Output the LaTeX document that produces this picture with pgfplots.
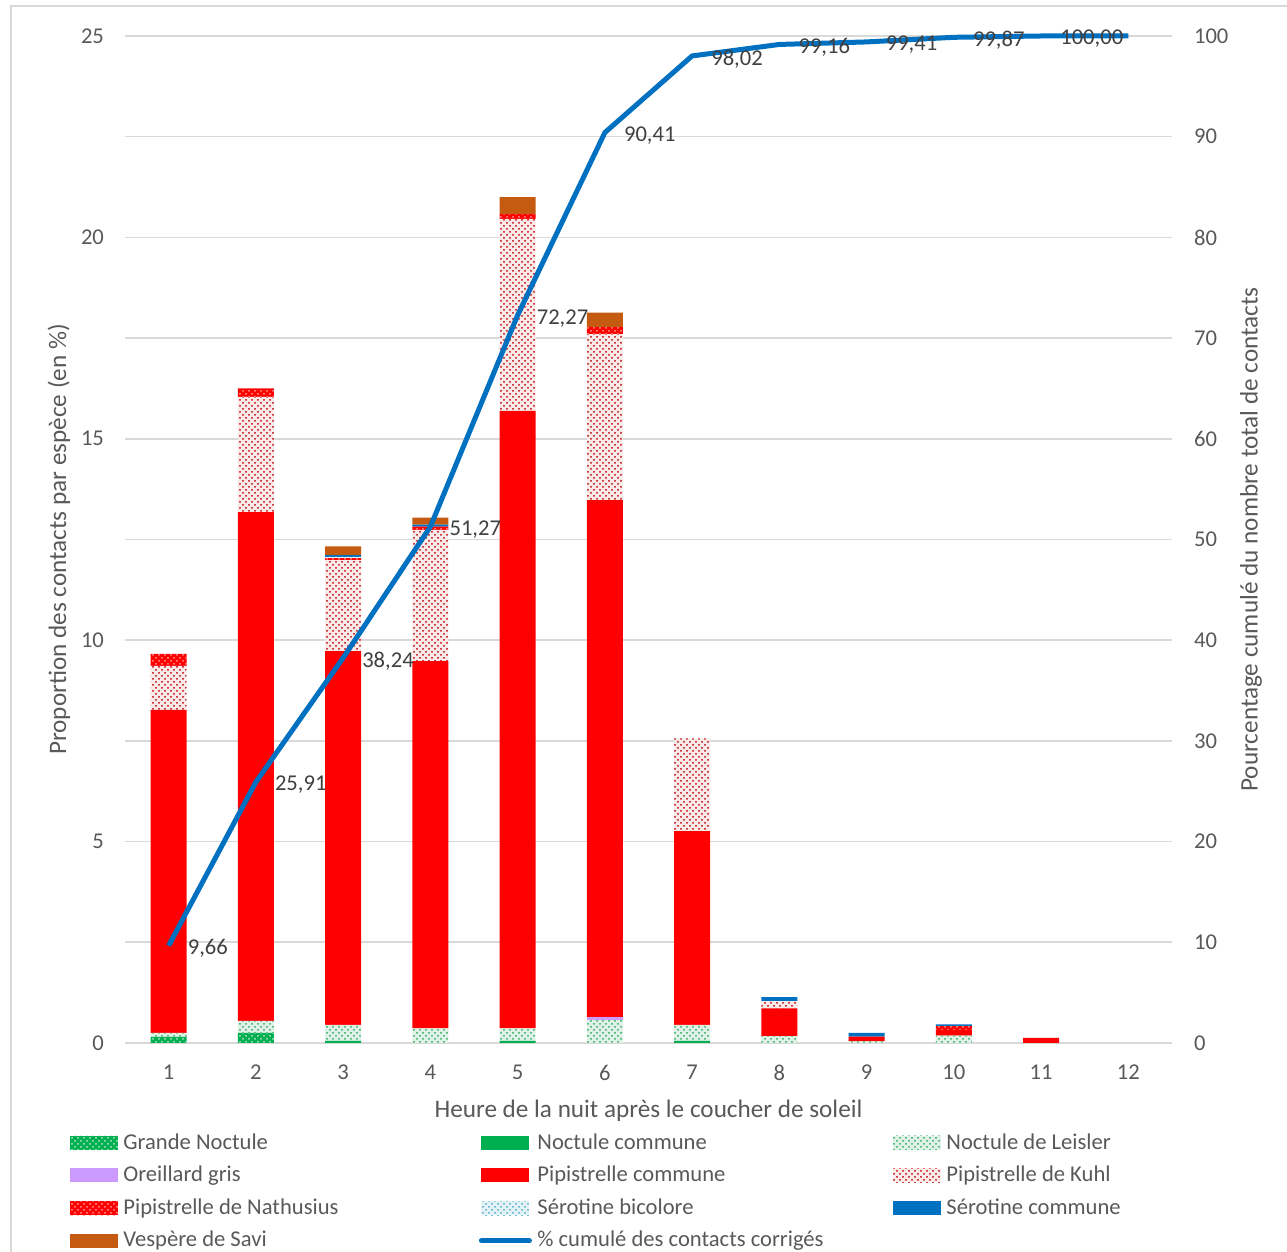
\documentclass[border=0pt]{standalone}
\usepackage{fontspec}
\setmainfont{Carlito}
\usepackage{pgfplots}
\usepackage{pgfplotstable}
\pgfplotsset{compat=1.18}
\usetikzlibrary{patterns}
\definecolor{cGN}{HTML}{00B050}
\definecolor{cNC}{HTML}{00B050}
\definecolor{cNL}{HTML}{2EA860}
\definecolor{cOG}{HTML}{CC99FF}
\definecolor{cPC}{HTML}{FF0000}
\definecolor{cPK}{HTML}{C00000}
\definecolor{cPN}{HTML}{FF0000}
\definecolor{cSB}{HTML}{4BACC6}
\definecolor{cSC}{HTML}{0070C0}
\definecolor{cVS}{HTML}{C55A11}
\definecolor{txt}{HTML}{595959}
\definecolor{lab}{HTML}{404040}
\definecolor{gridc}{HTML}{D9D9D9}

\pgfplotstableread{
x GN NC NL OG PC PK PN SB SC VS
1 0.15 0 0.10 0 8.02 1.09 0.30 0 0 0
2 0.25 0 0.30 0 12.63 2.86 0.21 0 0 0
3 0 0.05 0.40 0 9.28 2.26 0.05 0.03 0.04 0.22
4 0 0 0.36 0 9.12 3.26 0.08 0 0.05 0.17
5 0 0.05 0.31 0 15.33 4.77 0.12 0 0 0.42
6 0 0 0.57 0.08 12.83 4.12 0.17 0 0 0.36
7 0 0.05 0.40 0 4.81 2.30 0 0 0 0
8 0 0 0.17 0 0.69 0.18 0 0 0.10 0
9 0 0 0.04 0 0.08 0 0.04 0 0.09 0
10 0 0 0.18 0 0.14 0 0.10 0 0.04 0
11 0 0 0 0 0.13 0 0 0 0 0
12 0 0 0 0 0 0 0 0 0 0
}\bars

\pgfplotstableread{
x y lab
1 9.66 {9,66}
2 25.91 {25,91}
3 38.24 {38,24}
4 51.27 {51,27}
5 72.27 {72,27}
6 90.41 {90,41}
7 98.02 {98,02}
8 99.16 {99,16}
9 99.41 {99,41}
10 99.87 {99,87}
11 100.00 {100,00}
12 100.00 {}
}\cumul

\newcommand{\lt}[1]{\hspace{1.5pt}\makebox[176.5pt][l]{#1}}

\begin{document}
\begin{tikzpicture}[font=\fontsize{11.3}{13.5}\selectfont]
\begin{axis}[
  name=main,
  width=523.5pt, height=503.5pt, scale only axis,
  ybar stacked, bar width=0.41,
  xmin=0.5, xmax=12.5, ymin=0, ymax=25,
  xtick={1,...,12},
  ytick={0,2.5,...,25},
  yticklabels={0,,5,,10,,15,,20,,25},
  ymajorgrids, grid style={gridc, line width=0.8pt},
  axis x line*=bottom, axis y line*=left,
  x axis line style={gridc, line width=1pt, -},
  y axis line style={draw=none},
  major tick length=0pt,
  /pgf/number format/assume math mode=true,
  tick label style={text=txt},
  yticklabel style={xshift=-7pt},
  xticklabel style={yshift=-7.5pt},
  xlabel={Heure de la nuit après le coucher de soleil},
  ylabel={Proportion des contacts par espèce (en \%)},
  label style={text=txt, font=\fontsize{12.6}{15}\selectfont},
  xlabel style={yshift=-3pt},
  ylabel style={yshift=-1.5pt},
  legend columns=3,
  legend cell align=left,
  legend style={at={(rel axis cs:-0.053,-0.087)}, anchor=north west,
    draw=none, fill=none, inner sep=0pt, text=txt,
    nodes={inner sep=1.25pt}, row sep=4.45pt,
    /tikz/every even column/.append style={column sep=0pt}},
  legend image code/.code={\path[#1] (0pt,-3.5pt) rectangle (24pt,3.5pt);},
]
\addplot[draw=none, fill=cGN, postaction={pattern=crosshatch dots, pattern color=white!70!cGN}] table[x=x,y=GN]{\bars};
\addlegendentry{\lt{Grande Noctule}}
\addplot[draw=none, fill=cNC] table[x=x,y=NC]{\bars};
\addlegendentry{\lt{Noctule commune}}
\addplot[draw=none, fill=white!85!cNL, postaction={pattern=crosshatch dots, pattern color=cNL}] table[x=x,y=NL]{\bars};
\addlegendentry{\lt{Noctule de Leisler}}
\addplot[draw=none, fill=cOG] table[x=x,y=OG]{\bars};
\addlegendentry{\lt{Oreillard gris}}
\addplot[draw=none, fill=cPC] table[x=x,y=PC]{\bars};
\addlegendentry{\lt{Pipistrelle commune}}
\addplot[draw=none, fill=white!92!cPK, postaction={pattern=crosshatch dots, pattern color=cPK}] table[x=x,y=PK]{\bars};
\addlegendentry{\lt{Pipistrelle de Kuhl}}
\addplot[draw=none, fill=cPN, postaction={pattern=crosshatch dots, pattern color=white!60!cPN}] table[x=x,y=PN]{\bars};
\addlegendentry{\lt{Pipistrelle de Nathusius}}
\addplot[draw=none, fill=white!85!cSB, postaction={pattern=crosshatch dots, pattern color=cSB}] table[x=x,y=SB]{\bars};
\addlegendentry{\lt{Sérotine bicolore}}
\addplot[draw=none, fill=cSC] table[x=x,y=SC]{\bars};
\addlegendentry{\lt{Sérotine commune}}
\addplot[draw=none, fill=cVS] table[x=x,y=VS]{\bars};
\addlegendentry{\lt{Vespère de Savi}}
\addlegendimage{legend image code/.code={\draw[cSC, line width=2.5pt, line cap=round] (0pt,0pt) -- (24pt,0pt);}}
\addlegendentry{\lt{\% cumulé des contacts corrigés}}
\coordinate (O) at (rel axis cs:0,0);
\end{axis}
\begin{axis}[
  width=523.5pt, height=503.5pt, scale only axis,
  xmin=0.5, xmax=12.5, ymin=0, ymax=100,
  ytick={0,10,...,100},
  axis x line=none, axis y line*=right,
  y axis line style={draw=none},
  major tick length=0pt,
  /pgf/number format/assume math mode=true,
  tick label style={text=txt},
  yticklabel style={xshift=7.5pt},
  ylabel={Pourcentage cumulé du nombre total de contacts},
  ylabel style={text=txt, font=\fontsize{12.6}{15}\selectfont, yshift=1pt},
  clip=false,
]
\addplot[cSC, line width=2.5pt, line join=round,
  nodes near coords, point meta=explicit symbolic,
  nodes near coords align=horizontal,
  every node near coord/.append style={text=lab, anchor=west, xshift=5pt, yshift=-1.5pt}]
  table[x=x, y=y, meta=lab]{\cumul};
\end{axis}
\draw[gridc, line width=1pt] ([shift={(-57pt,-104.5pt)}]O) -- ([shift={(-57pt,518.5pt)}]O) -- ([shift={(581pt,518.5pt)}]O);
\pgfresetboundingbox
\path[use as bounding box] ([shift={(-62.5pt,-104.5pt)}]O) rectangle ([shift={(581pt,521.5pt)}]O);
\end{tikzpicture}
\end{document}
